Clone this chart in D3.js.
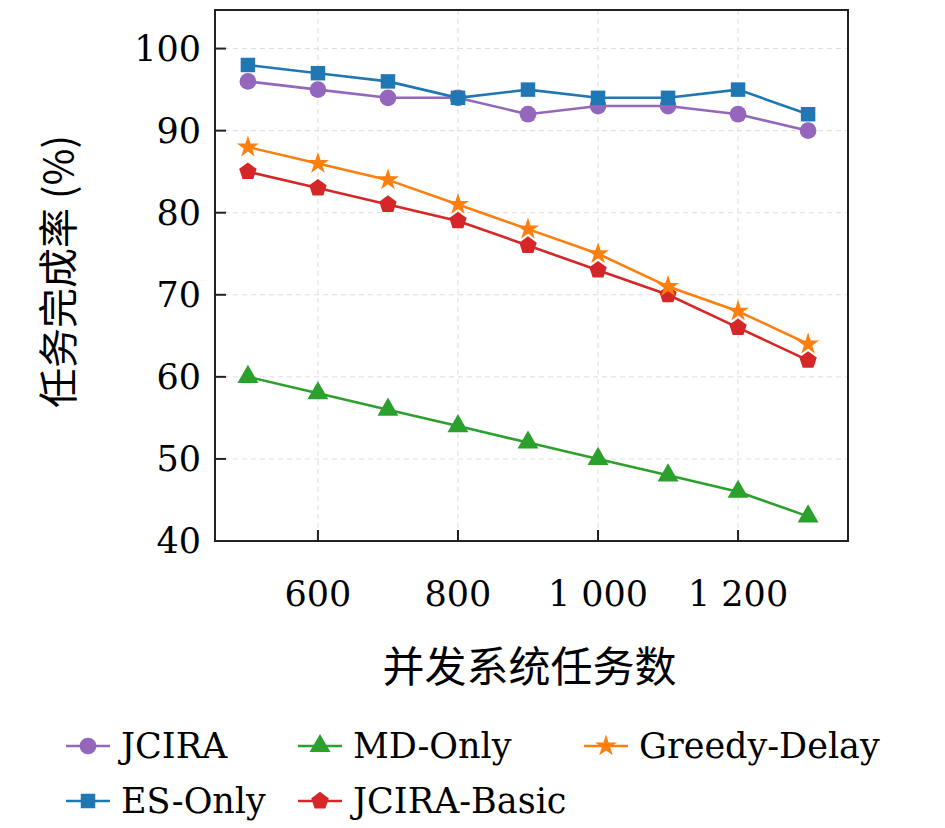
<!DOCTYPE html>
<html><head><meta charset="utf-8">
<script src="https://cdn.jsdelivr.net/npm/d3@7"></script>
<style>body{margin:0;background:#fff}</style>
</head><body>
<svg id="c" width="945" height="828"></svg>
<script>
const xs = [500, 600, 700, 800, 900, 1000, 1100, 1200, 1300]
const jcira = [96, 95, 94, 94, 92, 93, 93, 92, 90]
const esOnly = [98, 97, 96, 94, 95, 94, 94, 95, 92]
const greedy = [88, 86, 84, 81, 78, 75, 71, 68, 64]
const basic = [85, 83, 81, 79, 76, 73, 70, 66, 62]
const mdOnly = [60, 58, 56, 54, 52, 50, 48, 46, 43]
const xTicks = [600, 800, 1000, 1200]
const yTicks = [40, 50, 60, 70, 80, 90, 100]

// d3 has no pentagon symbol
const symbolPentagon = {
  draw (ctx, size) {
    const r = Math.sqrt(size / 2.378)
    for (let i = 0; i < 5; i++) {
      const a = -Math.PI / 2 + i * 2 * Math.PI / 5
      i ? ctx.lineTo(r * Math.cos(a), r * Math.sin(a)) : ctx.moveTo(r * Math.cos(a), r * Math.sin(a))
    }
    ctx.closePath()
  }
}

const series = [
  { name: 'JCIRA', values: jcira, color: '#9467bd', sym: d3.symbolCircle, size: 220 },
  { name: 'ES-Only', values: esOnly, color: '#1f77b4', sym: d3.symbolSquare, size: 210 },
  { name: 'MD-Only', values: mdOnly, color: '#2ca02c', sym: d3.symbolTriangle, size: 190 },
  { name: 'JCIRA-Basic', values: basic, color: '#d62728', sym: symbolPentagon, size: 200 },
  { name: 'Greedy-Delay', values: greedy, color: '#ff7f0e', sym: d3.symbolStar, size: 150 }
]

const svg = d3.select('#c')
const L = 215, R = 848, T = 10, B = 541
const x = d3.scaleLinear().domain([453, 1357]).range([L, R])
const y = d3.scaleLinear().domain([40, 104.7]).range([B, T])
const serif = '"DejaVu Serif", "Liberation Serif", serif'
const cjk = '"Noto Sans CJK SC", sans-serif'
const fmt = d => d >= 1000 ? String(d).replace(/(\d)(\d{3})$/, '$1 $2') : d

const grid = svg.append('g').attr('stroke', '#ddd').attr('stroke-dasharray', '5,4').attr('stroke-width', 1)
xTicks.forEach(t => grid.append('line').attr('x1', x(t)).attr('x2', x(t)).attr('y1', T).attr('y2', B))
yTicks.forEach(t => grid.append('line').attr('x1', L).attr('x2', R).attr('y1', y(t)).attr('y2', y(t)))

const line = d3.line().x((d, i) => x(xs[i])).y(d => y(d))
series.forEach(s => {
  svg.append('path').datum(s.values).attr('d', line).attr('fill', 'none')
    .attr('stroke', s.color).attr('stroke-width', 2.6)
  svg.selectAll(null).data(s.values).enter().append('path')
    .attr('d', d3.symbol().type(s.sym).size(s.size))
    .attr('transform', (d, i) => `translate(${x(xs[i])},${y(d)})`)
    .attr('fill', s.color)
})

svg.append('rect').attr('x', L).attr('y', T).attr('width', R - L).attr('height', B - T)
  .attr('fill', 'none').attr('stroke', '#222').attr('stroke-width', 2)

xTicks.forEach(t => {
  svg.append('line').attr('x1', x(t)).attr('x2', x(t)).attr('y1', B).attr('y2', B - 11).attr('stroke', '#222').attr('stroke-width', 2)
  svg.append('text').attr('x', x(t)).attr('y', 606).attr('text-anchor', 'middle')
    .attr('font-family', serif).attr('font-size', 35).text(fmt(t))
})
yTicks.forEach(t => {
  svg.append('line').attr('x1', L).attr('x2', L + 11).attr('y1', y(t)).attr('y2', y(t)).attr('stroke', '#222').attr('stroke-width', 2)
  svg.append('text').attr('x', 201).attr('y', y(t) + 12).attr('text-anchor', 'end')
    .attr('font-family', serif).attr('font-size', 35).text(t)
})

svg.append('text').attr('x', (L + R) / 2 - 2).attr('y', 682).attr('text-anchor', 'middle')
  .attr('font-family', cjk).attr('font-size', 42).text('并发系统任务数')
svg.append('text').attr('transform', `translate(73,${(T + B) / 2 - 4}) rotate(-90)`).attr('text-anchor', 'middle')
  .attr('font-family', cjk).attr('font-size', 40)
  .text('任务完成率 (%)')

const legendPos = [
  { s: series[0], x: 66, y: 746 },
  { s: series[2], x: 298, y: 746 },
  { s: series[4], x: 584, y: 746 },
  { s: series[1], x: 66, y: 801 },
  { s: series[3], x: 298, y: 801 }
]
legendPos.forEach(p => {
  const g = svg.append('g').attr('transform', `translate(${p.x},${p.y})`)
  g.append('line').attr('x1', 0).attr('x2', 44).attr('stroke', p.s.color).attr('stroke-width', 2.6)
  g.append('path').attr('d', d3.symbol().type(p.s.sym).size(p.s.size)).attr('transform', 'translate(22,0)').attr('fill', p.s.color)
  g.append('text').attr('x', 55).attr('y', 12).attr('font-family', serif).attr('font-size', 35).text(p.s.name)
})
</script>
</body></html>
